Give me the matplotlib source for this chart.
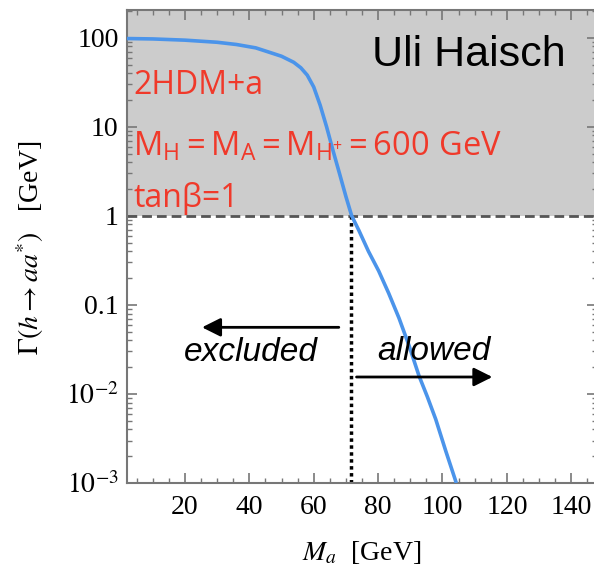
import matplotlib
matplotlib.use("Agg")
import matplotlib.pyplot as plt
from matplotlib.ticker import FixedLocator, MultipleLocator, LogLocator, NullFormatter

plt.rcParams['mathtext.fontset'] = 'stix'
plt.rcParams['mathtext.rm'] = 'Open Sans'
plt.rcParams['mathtext.it'] = 'Open Sans:italic'
plt.rcParams['mathtext.bf'] = 'Open Sans:bold'

# Data
ma = [2, 10, 20, 30, 36, 42, 46.6, 50, 53.8, 56, 58, 60, 62, 64, 66, 68, 70, 71.8,
      74, 77, 80.2, 83.3, 86.5, 89.6, 92.7, 95.3, 97.9, 101, 104.3]
gamma = [98, 97, 94, 89, 84, 77, 68, 62, 53, 46, 38, 28, 17.5, 10, 5.4, 3.0, 1.65, 1.0,
         0.69, 0.40, 0.24, 0.135, 0.071, 0.035, 0.016, 0.0093, 0.0052, 0.0023, 0.001]
threshold_ma = 71.6
limit_gamma = 1.0
xticks = [20, 40, 60, 80, 100, 120, 140]
yticks = [1e-3, 1e-2, 0.1, 1, 10, 100]
yticklabels = [r'$10^{-3}$', r'$10^{-2}$', '0.1', '1', '10', '100']

W, H = 594, 574
L, R, T, B = 127, 597, 10, 483
fig = plt.figure(figsize=(W/100, H/100), dpi=100)
ax = fig.add_axes([L/W, (H-B)/H, (R-L)/W, (B-T)/H])
ax.set_xlim(2, 148)
ax.set_yscale('log')
ax.set_ylim(1e-3, 205)

ax.axhspan(limit_gamma, 205, color='#cccccc', zorder=0, lw=0)
ax.axhline(limit_gamma, color='#555555', ls=(0, (3.5, 1.8)), lw=2, zorder=2)
ax.plot([threshold_ma, threshold_ma], [1e-3, limit_gamma], color='black', ls=(0, (1, 1)), lw=2.5, zorder=2)
ax.plot(ma, gamma, color='#4b94ea', lw=2.6, zorder=3, solid_capstyle='butt')

# arrows
ax.annotate('', xy=(25.3, 0.056), xytext=(67.8, 0.056),
            arrowprops=dict(arrowstyle='-|>', color='black', lw=2, mutation_scale=28, shrinkA=0, shrinkB=0))
ax.annotate('', xy=(115.5, 0.0155), xytext=(73.3, 0.0155),
            arrowprops=dict(arrowstyle='-|>', color='black', lw=2, mutation_scale=28, shrinkA=0, shrinkB=0))
ax.text(40.5, 0.029, 'excluded', fontsize=24, style='italic', family='Liberation Sans',
        ha='center', va='center')
ax.text(97.5, 0.030, 'allowed', fontsize=24, style='italic', family='Liberation Sans',
        ha='center', va='center')

# annotations
red = '#f0392a'
fig.text(372/W, 1 - 55/H, 'Uli Haisch', fontsize=31, family='Liberation Sans', color='black',
         ha='left', va='center')
fig.text(133/W, 1 - 86/H, '2HDM+a', fontsize=23, family='Open Sans', color=red,
         ha='left', va='center')
fig.text(133/W, 1 - 146/H, r'$\mathrm{M_H = M_A = M_{H^{+}} = 600\ GeV}$', fontsize=23.5,
         color=red, ha='left', va='center', math_fontfamily='custom')
fig.text(133/W, 1 - 198/H, 'tanβ=1', fontsize=23, family='Open Sans', color=red,
         ha='left', va='center')

# axes styling
ax.xaxis.set_major_locator(FixedLocator(xticks))
ax.xaxis.set_minor_locator(MultipleLocator(5))
ax.yaxis.set_major_locator(FixedLocator(yticks))
ax.yaxis.set_minor_locator(LogLocator(base=10, subs=range(2, 10), numticks=20))
ax.yaxis.set_minor_formatter(NullFormatter())
ax.set_xticklabels([str(t) for t in xticks], family='Liberation Serif', fontsize=20)
ax.set_yticklabels(yticklabels, family='Liberation Serif', fontsize=20)
ax.tick_params(which='both', direction='in', top=True, right=True, color='#777777')
ax.tick_params(which='major', length=7, width=1.2)
ax.tick_params(which='minor', length=3.5, width=1)
ax.tick_params(axis='x', pad=9)
ax.tick_params(axis='y', pad=6)
for s in ax.spines.values():
    s.set_color('#777777')
    s.set_linewidth(1.5)

ax.set_xlabel(r'$M_a$  [GeV]', family='Liberation Serif', fontsize=20, va='center', ha='center')
ax.set_ylabel(r'$\Gamma(h \rightarrow aa^{*})$   [GeV]', family='Liberation Serif', fontsize=20,
              va='center', ha='center')
ax.xaxis.set_label_coords((362-L)/(R-L), -(552-B)/(B-T))
ax.yaxis.set_label_coords(-(L-30)/(R-L), (B-248)/(B-T))

fig.savefig('out.png', dpi=100)
